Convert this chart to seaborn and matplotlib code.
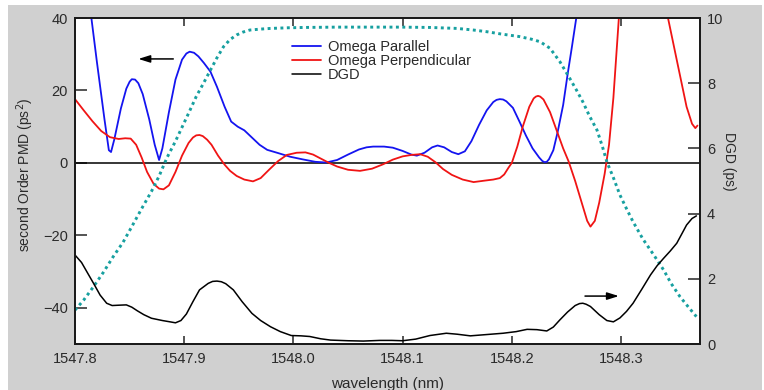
import matplotlib
matplotlib.use("Agg")
import matplotlib.pyplot as plt
from matplotlib.patches import Rectangle
import seaborn as sns

# Omega Parallel (left axis, ps^2)
wl_par = [1547.800, 1547.810, 1547.820, 1547.827, 1547.831, 1547.833, 1547.836, 1547.842,
          1547.847, 1547.850, 1547.852, 1547.855, 1547.858, 1547.862, 1547.868, 1547.873,
          1547.877, 1547.880, 1547.886, 1547.892, 1547.898, 1547.902, 1547.905, 1547.909,
          1547.913, 1547.918, 1547.924, 1547.930, 1547.937, 1547.943, 1547.949, 1547.955,
          1547.962, 1547.969, 1547.976, 1547.985, 1547.997, 1548.008, 1548.020, 1548.030,
          1548.040, 1548.050, 1548.060, 1548.067, 1548.073, 1548.083, 1548.091, 1548.100,
          1548.108, 1548.113, 1548.120, 1548.127, 1548.132, 1548.138, 1548.145, 1548.151,
          1548.157, 1548.163, 1548.170, 1548.177, 1548.183, 1548.186, 1548.189, 1548.192,
          1548.195, 1548.201, 1548.207, 1548.213, 1548.219, 1548.225, 1548.228, 1548.230,
          1548.232, 1548.234, 1548.238, 1548.242, 1548.247, 1548.251, 1548.255, 1548.259,
          1548.265, 1548.272]
omega_par = [72, 52, 28, 12, 3.5, 3.0, 6.5, 15,
             20.5, 22.4, 23.1, 23.0, 22.0, 19, 12, 5,
             0.8, 4, 14, 23, 28.5, 30.2, 30.7, 30.4,
             29.4, 27.6, 25.2, 21, 15.5, 11.4, 10, 9,
             7, 5, 3.6, 2.8, 1.7, 1.0, 0.3, 0.1,
             0.8, 2.3, 3.7, 4.3, 4.5, 4.5, 4.2, 3.3,
             2.3, 2.0, 2.8, 4.3, 4.8, 4.3, 3.0, 2.4,
             3.2, 6, 10.5, 14.5, 16.8, 17.4, 17.6, 17.5,
             17.0, 15.2, 11.4, 7.5, 4, 1.5, 0.5, 0.2,
             0.3, 1.0, 3.5, 8.6, 16, 24.3, 32, 40,
             52, 65]

# Omega Perpendicular (left axis, ps^2)
wl_perp = [1547.800, 1547.808, 1547.816, 1547.824, 1547.832, 1547.840, 1547.846, 1547.851,
           1547.856, 1547.861, 1547.866, 1547.872, 1547.877, 1547.881, 1547.886, 1547.892,
           1547.898, 1547.904, 1547.908, 1547.911, 1547.914, 1547.917, 1547.921, 1547.925,
           1547.931, 1547.937, 1547.942, 1547.948, 1547.955, 1547.963, 1547.970, 1547.978,
           1547.986, 1547.994, 1548.003, 1548.011, 1548.018, 1548.025, 1548.032, 1548.040,
           1548.050, 1548.061, 1548.072, 1548.082, 1548.091, 1548.100, 1548.108, 1548.116,
           1548.123, 1548.130, 1548.137, 1548.145, 1548.155, 1548.165, 1548.175, 1548.183,
           1548.189, 1548.193, 1548.197, 1548.200, 1548.205, 1548.210, 1548.216, 1548.220,
           1548.222, 1548.224, 1548.226, 1548.229, 1548.235, 1548.241, 1548.247, 1548.252,
           1548.258, 1548.264, 1548.269, 1548.272, 1548.276, 1548.280, 1548.285, 1548.289,
           1548.293, 1548.298, 1548.305, 1548.313, 1548.322, 1548.330, 1548.337, 1548.343,
           1548.352, 1548.360, 1548.365, 1548.368, 1548.370]
omega_perp = [17.6, 14.5, 11.5, 8.8, 7.1, 6.6, 6.8, 6.7,
              5, 1.5, -2.5, -5.8, -7.1, -7.3, -6.2, -2.5,
              2, 5.5, 7.0, 7.6, 7.7, 7.4, 6.4, 5,
              2, -0.5, -2.2, -3.6, -4.6, -5.1, -4.2, -1.8,
              0.5, 2.2, 2.8, 2.9, 2.3, 1.2, 0.1, -1.0,
              -1.9, -2.2, -1.6, -0.4, 0.9, 1.8, 2.2, 2.4,
              1.7, 0.2, -1.7, -3.3, -4.6, -5.3, -4.9, -4.6,
              -4.2, -3.2, -1.3, 0, 4.5, 10, 15.5, 17.8,
              18.3, 18.5, 18.3, 17.5, 14, 9, 4, 0.4,
              -5, -11, -16, -17.6, -16, -11, -3, 5,
              18, 40, 62, 76, 80, 72, 55, 40,
              27, 15.5, 10.8, 9.6, 10.3]

# DGD (right axis, ps)
wl_dgd = [1547.800, 1547.806, 1547.812, 1547.817, 1547.823, 1547.829, 1547.834, 1547.840,
          1547.847, 1547.852, 1547.857, 1547.863, 1547.870, 1547.880, 1547.887, 1547.892,
          1547.897, 1547.902, 1547.908, 1547.914, 1547.922, 1547.926, 1547.930, 1547.934,
          1547.938, 1547.945, 1547.953, 1547.962, 1547.970, 1547.979, 1547.988, 1547.998,
          1548.007, 1548.015, 1548.025, 1548.034, 1548.050, 1548.064, 1548.079, 1548.090,
          1548.100, 1548.112, 1548.125, 1548.140, 1548.150, 1548.162, 1548.177, 1548.192,
          1548.204, 1548.214, 1548.223, 1548.232, 1548.238, 1548.244, 1548.251, 1548.258,
          1548.262, 1548.265, 1548.268, 1548.272, 1548.280, 1548.287, 1548.293, 1548.299,
          1548.305, 1548.311, 1548.319, 1548.327, 1548.333, 1548.339, 1548.345, 1548.351,
          1548.356, 1548.360, 1548.365, 1548.369]
dgd = [2.73, 2.5, 2.15, 1.86, 1.5, 1.25, 1.18, 1.19,
       1.20, 1.13, 1.02, 0.9, 0.79, 0.72, 0.68, 0.65,
       0.72, 0.92, 1.3, 1.66, 1.86, 1.92, 1.93, 1.91,
       1.85, 1.66, 1.3, 0.94, 0.72, 0.53, 0.38, 0.26,
       0.25, 0.23, 0.16, 0.12, 0.10, 0.09, 0.11, 0.11,
       0.10, 0.15, 0.26, 0.33, 0.30, 0.25, 0.29, 0.33,
       0.38, 0.45, 0.44, 0.40, 0.52, 0.74, 0.98, 1.18,
       1.24, 1.25, 1.22, 1.15, 0.9, 0.72, 0.68, 0.8,
       1.0, 1.25, 1.68, 2.12, 2.4, 2.63, 2.85, 3.09,
       3.4, 3.65, 3.85, 3.93]

# filter transmission profile (dotted, drawn on right axis scale)
wl_filt = [1547.800, 1547.808, 1547.817, 1547.826, 1547.835, 1547.844, 1547.852, 1547.861,
           1547.870, 1547.877, 1547.884, 1547.892, 1547.899, 1547.905, 1547.911, 1547.918,
           1547.924, 1547.930, 1547.936, 1547.942, 1547.948, 1547.954, 1547.960, 1547.970,
           1547.979, 1547.995, 1548.010, 1548.040, 1548.070, 1548.098, 1548.125, 1548.150,
           1548.165, 1548.177, 1548.190, 1548.207, 1548.218, 1548.226, 1548.235, 1548.244,
           1548.253, 1548.259, 1548.265, 1548.271, 1548.278, 1548.283, 1548.287, 1548.293,
           1548.299, 1548.305, 1548.311, 1548.320, 1548.330, 1548.339, 1548.346, 1548.354,
           1548.362, 1548.369]
filt = [1.04, 1.35, 1.76, 2.2, 2.68, 3.12, 3.60, 4.15,
        4.68, 5.15, 5.70, 6.22, 6.72, 7.15, 7.59, 8.02,
        8.40, 8.78, 9.12, 9.34, 9.48, 9.57, 9.63, 9.66,
        9.68, 9.70, 9.71, 9.72, 9.72, 9.72, 9.71, 9.68,
        9.63, 9.58, 9.51, 9.43, 9.35, 9.27, 9.07, 8.66,
        8.15, 7.8, 7.43, 7.0, 6.56, 6.05, 5.59, 5.1,
        4.57, 4.15, 3.75, 3.22, 2.73, 2.27, 1.85, 1.45,
        1.12, 0.84]

x_ticks = [1547.8, 1547.9, 1548.0, 1548.1, 1548.2, 1548.3]
left_ticks = [-40, -20, 0, 20, 40]
right_ticks = [0, 2, 4, 6, 8, 10]

sns.set_style("ticks")
plt.rcParams['font.family'] = ['Liberation Sans', 'DejaVu Sans']
txt = '#2a2a2a'

fig = plt.figure(figsize=(7.64, 3.90), dpi=100)
fig.patch.set_facecolor('white')
fig.add_artist(Rectangle((8 / 764, 0), 754 / 764, 385 / 390, transform=fig.transFigure,
                         facecolor='#d0d0d0', edgecolor='none', zorder=0))

ax = fig.add_axes([75 / 764, 46 / 390, 625 / 764, 326 / 390])
ax.set_facecolor('white')
ax2 = ax.twinx()

sns.lineplot(x=wl_par, y=omega_par, ax=ax, color='#1414f0', linewidth=1.3)
line_par = ax.lines[-1]
sns.lineplot(x=wl_perp, y=omega_perp, ax=ax, color='#f01414', linewidth=1.3)
line_perp = ax.lines[-1]
ax.axhline(0, color='black', linewidth=1.1, zorder=1)

sns.lineplot(x=wl_filt, y=filt, ax=ax2, color='#17a0a0', linewidth=2.1,
             linestyle=(0, (1, 1.2)))
sns.lineplot(x=wl_dgd, y=dgd, ax=ax2, color='black', linewidth=1.1)
line_dgd = ax2.lines[-1]

ax.set_xlim(1547.8, 1548.3723)
ax.set_ylim(-50, 40)
ax2.set_ylim(0, 10)
ax.set_xticks(x_ticks)
ax.set_xticklabels([f"{t:.1f}" for t in x_ticks])
ax.set_yticks(left_ticks)
ax2.set_yticks(right_ticks)

ax.set_xlabel("wavelength (nm)", fontsize=11, color=txt, labelpad=8)
ax.set_ylabel("second Order PMD (ps$^2$)", fontsize=10, color=txt)
ax.yaxis.set_label_coords(-0.062, 0.52)
ax2.set_ylabel("DGD (ps)", fontsize=10, color=txt, rotation=270)
ax2.yaxis.set_label_coords(1.058, 0.56)

ax.tick_params(axis='x', direction='in', length=6, width=1.1, top=True,
               labelsize=10.5, labelcolor=txt, pad=6)
ax.tick_params(axis='y', direction='in', length=8.5, width=1.1, right=False,
               labelsize=10.5, labelcolor=txt, pad=5)
ax2.tick_params(axis='y', direction='in', length=8.5, width=1.1,
                labelsize=10.5, labelcolor=txt, pad=5)
for a in (ax, ax2):
    for s in a.spines.values():
        s.set_linewidth(1.3)
        s.set_color('#1a1a1a')

ax.annotate("", xy=(1547.858, 28.7), xytext=(1547.890, 28.7),
            arrowprops=dict(arrowstyle='-|>,head_length=0.7,head_width=0.22',
                            color='black', lw=1.1, shrinkA=0, shrinkB=0))
ax2.annotate("", xy=(1548.298, 1.47), xytext=(1548.267, 1.47),
             arrowprops=dict(arrowstyle='-|>,head_length=0.7,head_width=0.22',
                             color='black', lw=1.1, shrinkA=0, shrinkB=0))

leg = ax2.legend(handles=[line_par, line_perp, line_dgd],
                 labels=["Omega Parallel", "Omega Perpendicular", "DGD"],
                 loc='upper left', bbox_to_anchor=(0.347, 0.932), frameon=False,
                 fontsize=10.5, handlelength=2.0, handletextpad=0.45,
                 labelspacing=0.0, borderpad=0, borderaxespad=0)
for t in leg.get_texts():
    t.set_color(txt)

fig.savefig("out.png", dpi=100, facecolor=fig.get_facecolor())
